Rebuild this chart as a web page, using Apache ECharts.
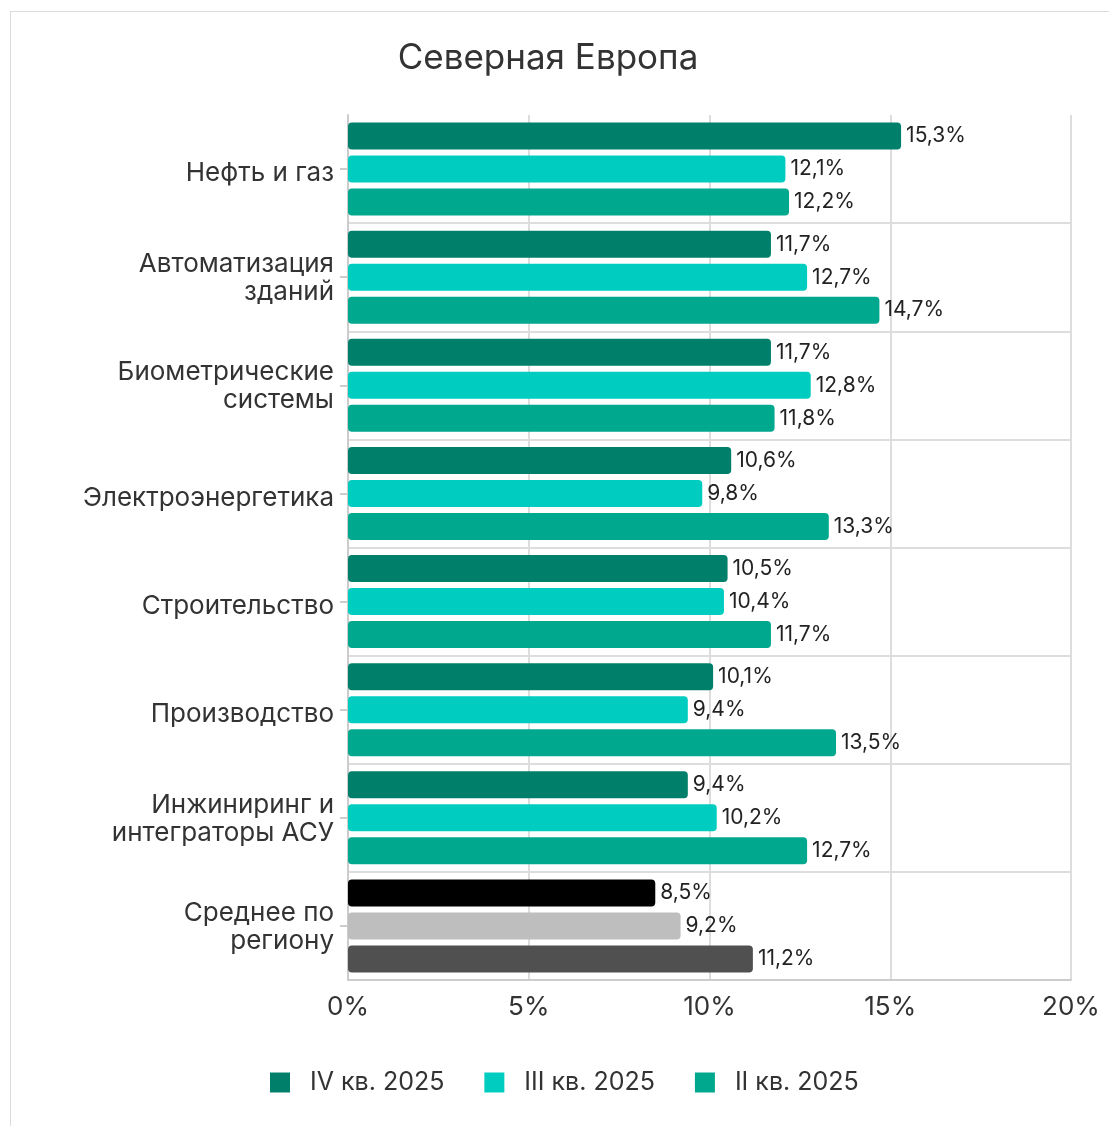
<!DOCTYPE html>
<html>
<head>
<meta charset="utf-8">
<script src="https://cdn.jsdelivr.net/npm/echarts@6/dist/echarts.min.js"></script>
<style>
  html, body { margin: 0; padding: 0; background: #fff; }
  #frame { position: absolute; left: 10px; top: 11px; right: 0; bottom: 0; border-left: 1px solid #dcdcdc; border-top: 1px solid #dcdcdc; }
  #chart { position: absolute; left: 0; top: 0; width: 1109px; height: 1126px; }
</style>
</head>
<body>
<div id="frame"></div>
<div id="chart"></div>
<script>
const titleText = 'Северная Европа';
const categories = [
  'Нефть и газ',
  'Автоматизация\nзданий',
  'Биометрические\nсистемы',
  'Электроэнергетика',
  'Строительство',
  'Производство',
  'Инжиниринг и\nинтеграторы АСУ',
  'Среднее по\nрегиону'
];
const seriesNames = ['IV кв. 2025', 'III кв. 2025', 'II кв. 2025'];
const q4 = [15.3, 11.7, 11.7, 10.6, 10.5, 10.1, 9.4, 8.5];
const q3 = [12.1, 12.7, 12.8, 9.8, 10.4, 9.4, 10.2, 9.2];
const q2 = [12.2, 14.7, 11.8, 13.3, 11.7, 13.5, 12.7, 11.2];
const xTicks = [0, 5, 10, 15, 20];

const FONT = 'Inter';
const TEXT = '#333333';
const seriesColors = ['#00806A', '#00CDC0', '#00A88E'];
const avgColors = ['#000000', '#BEBEBE', '#505050'];
const avgIndex = categories.length - 1;

function buildData(values, si) {
  return values.map((v, i) => i === avgIndex
    ? { value: v, itemStyle: { color: avgColors[si] } }
    : v);
}

const catFont = { fontFamily: FONT, fontSize: 26, color: TEXT, align: 'right' };

const chart = echarts.init(document.getElementById('chart'), null, { renderer: 'canvas' });
const option = {
  backgroundColor: 'transparent',
  animation: false,
  title: {
    text: titleText,
    left: 543,
    top: 36,
    textAlign: 'center',
    textStyle: { fontFamily: FONT, fontSize: 35, fontWeight: 'normal', color: TEXT }
  },
  legend: {
    bottom: 26,
    left: 265,
    icon: 'rect',
    itemWidth: 20,
    itemHeight: 20,
    itemGap: 40,
    textStyle: { fontFamily: FONT, fontSize: 25, color: TEXT, padding: [0, 0, 0, 15] },
    data: seriesNames
  },
  grid: { left: 348, right: 38, top: 115, bottom: 146, containLabel: false },
  xAxis: {
    type: 'value',
    min: xTicks[0],
    max: xTicks[xTicks.length - 1],
    interval: xTicks[1] - xTicks[0],
    axisLine: { show: true, lineStyle: { color: '#cccccc', width: 2 } },
    axisTick: { show: false },
    splitLine: { show: true, lineStyle: { color: '#dddddd', width: 2 } },
    axisLabel: {
      fontFamily: FONT, fontSize: 26, color: TEXT, margin: 14,
      formatter: v => v + '%'
    }
  },
  yAxis: {
    type: 'category',
    inverse: true,
    data: categories,
    axisLine: { show: true, lineStyle: { color: '#cccccc', width: 2 } },
    axisTick: { show: true, alignWithLabel: true, length: 8, lineStyle: { color: '#cccccc', width: 2 } },
    splitLine: { show: true, interval: (i) => i > 0, lineStyle: { color: '#dddddd', width: 2 } },
    axisLabel: {
      fontFamily: FONT, fontSize: 26, color: TEXT, margin: 14,
      lineHeight: 30, align: 'right',
      formatter: v => {
        const lines = v.split('\n');
        if (lines.length === 1) return '{s|' + v + '}';
        return lines.map((l, i) => (i === 0 ? '{f|' : '{m|') + l + '}').join('\n');
      },
      rich: {
        s: Object.assign({ lineHeight: 30, padding: [9, 0, 0, 0] }, catFont),
        f: Object.assign({ lineHeight: 30, padding: [4, 0, 0, 0] }, catFont),
        m: Object.assign({ lineHeight: 30 }, catFont)
      }
    }
  },
  series: [q4, q3, q2].map((vals, si) => ({
    name: seriesNames[si],
    type: 'bar',
    data: buildData(vals, si),
    barWidth: 27,
    barGap: '22%',
    itemStyle: { color: seriesColors[si], borderRadius: 4 },
    label: {
      show: true,
      position: 'right',
      distance: 5,
      fontFamily: FONT,
      fontSize: 21,
      color: '#222222',
      formatter: p => String(p.value).replace('.', ',') + '%'
    }
  }))
};
chart.setOption(option);
</script>
</body>
</html>
